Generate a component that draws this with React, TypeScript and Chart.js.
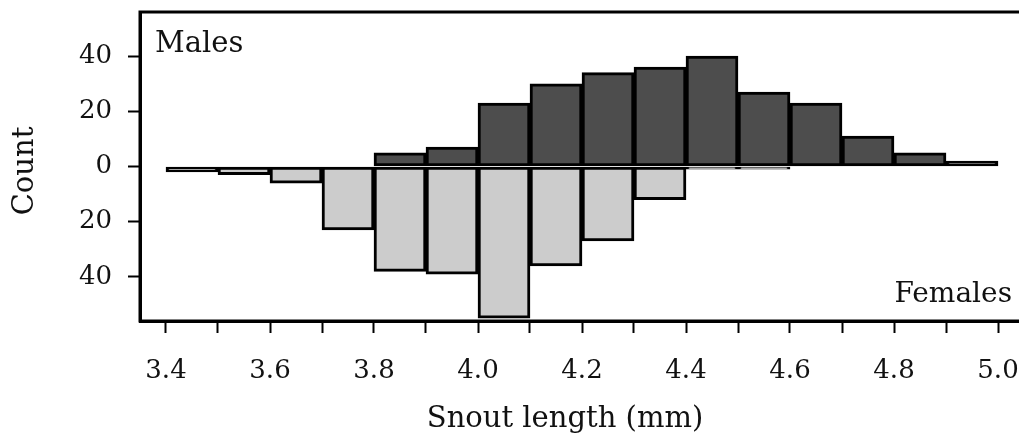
import React, { useEffect, useRef } from "react";
import { Chart, registerables } from "chart.js";

Chart.register(...registerables);

// Histogram bins (lower edge of each 0.1 mm bin)
const binStarts = [3.4, 3.5, 3.6, 3.7, 3.8, 3.9, 4.0, 4.1, 4.2, 4.3, 4.4, 4.5, 4.6, 4.7, 4.8, 4.9];
const binWidth = 0.1;
// Counts per bin
const maleCounts = [0, 0, 0, 0, 5, 7, 23, 30, 34, 36, 40, 27, 23, 11, 5, 2];
const femaleCounts = [2, 3, 6, 23, 38, 39, 55, 36, 27, 12, 1, 1, 0, 0, 0, 0];
// Axis ticks
const xTickValues = [3.4, 3.5, 3.6, 3.7, 3.8, 3.9, 4.0, 4.1, 4.2, 4.3, 4.4, 4.5, 4.6, 4.7, 4.8, 4.9, 5.0];
const yTickValues = [-40, -20, 0, 20, 40];
const xLabel = "Snout length (mm)";
const yLabel = "Count";
const maleLabel = "Males";
const femaleLabel = "Females";

const FONT = "'DejaVu Serif', serif";

export default function App() {
  const canvasRef = useRef<HTMLCanvasElement | null>(null);

  useEffect(() => {
    const canvas = canvasRef.current;
    if (!canvas) return;

    const annotations = {
      id: "annotations",
      afterDraw(chart: any) {
        const { ctx, chartArea } = chart;
        ctx.save();
        ctx.strokeStyle = "#000";
        ctx.lineWidth = 3;
        ctx.strokeRect(chartArea.left, chartArea.top, chartArea.right - chartArea.left, chartArea.bottom - chartArea.top);
        ctx.fillStyle = "#111";
        ctx.font = `29px ${FONT}`;
        ctx.textBaseline = "alphabetic";
        ctx.textAlign = "left";
        ctx.fillText(maleLabel, 155, 52);
        ctx.textAlign = "right";
        ctx.font = `28px ${FONT}`;
        ctx.fillText(femaleLabel, 1012, 302);
        ctx.font = `29px ${FONT}`;
        ctx.textAlign = "center";
        ctx.fillText(xLabel, 565, 427);
        ctx.translate(33, 171);
        ctx.rotate(-Math.PI / 2);
        ctx.fillText(yLabel, 0, 0);
        ctx.restore();
      },
    };

    const chart = new Chart(canvas, {
      type: "bar",
      data: {
        datasets: [
          {
            label: femaleLabel,
            data: binStarts.map((b, i) => ({ x: b + binWidth / 2, y: -femaleCounts[i] })),
            backgroundColor: "#cccccc",
            borderColor: "#000",
            borderWidth: 3,
            borderSkipped: false,
            grouped: false,
            barPercentage: 1,
            categoryPercentage: 1,
          },
          {
            label: maleLabel,
            data: binStarts.map((b, i) => ({ x: b + binWidth / 2, y: maleCounts[i] })),
            backgroundColor: "#4d4d4d",
            borderColor: "#000",
            borderWidth: 3,
            borderSkipped: false,
            grouped: false,
            barPercentage: 1,
            categoryPercentage: 1,
          },
        ],
      },
      options: {
        responsive: false,
        animation: false,
        layout: { padding: { left: 0, top: 12, right: 21, bottom: 0 } },
        plugins: { legend: { display: false }, tooltip: { enabled: false } },
        scales: {
          x: {
            type: "linear",
            offset: false,
            min: 3.35,
            max: 5.05,
            afterFit: (s: any) => {
              s.height = 114;
              s.paddingLeft = 0;
              s.paddingRight = 0;
            },
            afterBuildTicks: (s: any) => {
              s.ticks = xTickValues.map((v) => ({ value: v }));
            },
            ticks: {
              autoSkip: false,
              maxRotation: 0,
              padding: 23,
              color: "#111",
              font: { family: FONT, size: 26 },
              callback: (v: any) => (Math.round(Number(v) * 10) % 2 === 0 ? Number(v).toFixed(1) : ""),
            },
            grid: {
              offset: false,
              drawOnChartArea: false,
              drawTicks: true,
              tickLength: 12,
              tickWidth: 2,
              tickColor: "#000",
            },
            border: { display: true, color: "#000", width: 3 },
          },
          y: {
            type: "linear",
            min: -56,
            max: 56,
            afterFit: (s: any) => {
              s.width = 140;
              s.paddingTop = 0;
              s.paddingBottom = 0;
            },
            afterBuildTicks: (s: any) => {
              s.ticks = yTickValues.map((v) => ({ value: v }));
            },
            ticks: {
              padding: 16,
              color: "#111",
              font: { family: FONT, size: 26 },
              callback: (v: any) => String(Math.abs(Number(v))),
            },
            grid: {
              drawOnChartArea: false,
              drawTicks: true,
              tickLength: 12,
              tickWidth: 2,
              tickColor: "#000",
            },
            border: { display: true, color: "#000", width: 3 },
          },
        },
      },
      plugins: [annotations],
    } as any);

    return () => chart.destroy();
  }, []);

  return (
    <div
      style={{
        position: "fixed",
        left: 0,
        top: 0,
        width: 1019,
        height: 435,
        overflow: "hidden",
        background: "#fff",
      }}
    >
      <canvas ref={canvasRef} width={1045} height={435} style={{ display: "block" }} />
    </div>
  );
}
